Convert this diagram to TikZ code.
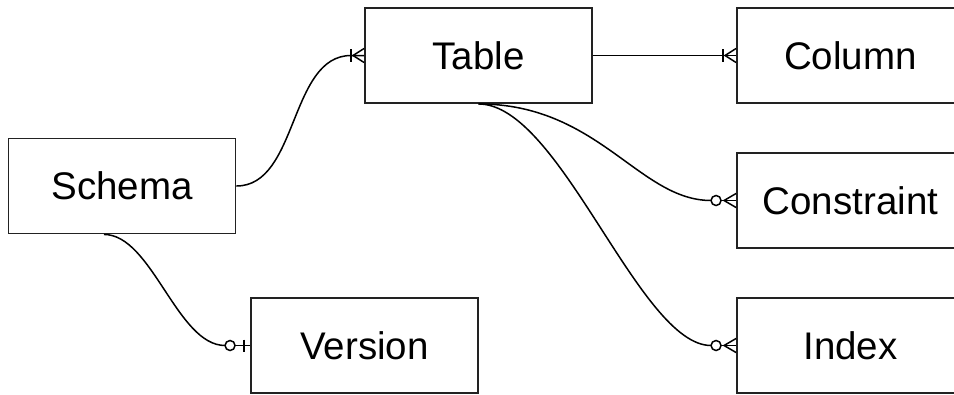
\documentclass[tikz,border=0pt]{standalone}
\usepackage{fontspec}
\setmainfont{Liberation Sans}
\usetikzlibrary{calc}
\definecolor{boxline}{HTML}{222222}
\tikzset{
  entity/.style={draw=boxline, line width=1.9pt, fill=white, minimum width=227pt, minimum height=95pt, inner sep=0pt, font=\fontsize{38.5}{40}\selectfont},
  rel/.style={draw=black, line width=1.5pt},
}
\begin{document}
\begin{tikzpicture}[x=1pt,y=-1pt]
\useasboundingbox (0,0) rectangle (954,394);
\node[entity] (Table) at (478.5,55.5) {Table};
\node[entity] (Column) at (850.5,55.5) {Column};
\node[entity] (Schema) at (122,186) {Schema};
\node[entity] (Constraint) at (850.5,200.5) {Constraint};
\node[entity] (Index) at (850.5,345.5) {Index};
\node[entity] (Version) at (364.5,345.5) {Version};

% Schema -> Table (one or many)
\coordinate (sT) at ($(Table.west)+(-13,0)$);
\draw[rel] (Schema.east) .. controls ($(Schema.east)+(62,0)$) and ($(sT)+(-62,0)$) .. (sT) -- (Table.west);
\draw[rel] ($(Table.west)+(-13,-6.5)$) -- ($(Table.west)+(-13,6.5)$);
\draw[rel] ($(Table.west)+(0,-7)$) -- ($(Table.west)+(-11,0)$) -- ($(Table.west)+(0,7)$);

% Table -> Column (one or many)
\draw[rel] (Table.east) -- (Column.west);
\draw[rel] ($(Column.west)+(-13,-6.5)$) -- ($(Column.west)+(-13,6.5)$);
\draw[rel] ($(Column.west)+(0,-7)$) -- ($(Column.west)+(-11,0)$) -- ($(Column.west)+(0,7)$);

% Table -> Constraint (zero or many)
\coordinate (cC) at ($(Constraint.west)+(-25,0)$);
\draw[rel] (Table.south) .. controls ($(Table.south)+(120,0)$) and ($(cC)+(-72,0)$) .. (cC);
\draw[rel] ($(Constraint.west)+(-20,0)$) circle (5);
\draw[rel] ($(Constraint.west)+(-15,0)$) -- (Constraint.west);
\draw[rel] ($(Constraint.west)+(0,-7)$) -- ($(Constraint.west)+(-12,0)$) -- ($(Constraint.west)+(0,7)$);

% Table -> Index (zero or many)
\coordinate (cI) at ($(Index.west)+(-25,0)$);
\draw[rel] (Table.south) .. controls ($(Table.south)+(82,0)$) and ($(cI)+(-72,0)$) .. (cI);
\draw[rel] ($(Index.west)+(-20,0)$) circle (5);
\draw[rel] ($(Index.west)+(-15,0)$) -- (Index.west);
\draw[rel] ($(Index.west)+(0,-7)$) -- ($(Index.west)+(-12,0)$) -- ($(Index.west)+(0,7)$);

% Schema -> Version (zero or one)
\coordinate (sS) at ($(Schema.south)+(-18,0)$);
\coordinate (vV) at ($(Version.west)+(-25,0)$);
\draw[rel] (sS) .. controls ($(sS)+(48,0)$) and ($(vV)+(-48,0)$) .. (vV);
\draw[rel] ($(Version.west)+(-20,0)$) circle (5);
\draw[rel] ($(Version.west)+(-15,0)$) -- (Version.west);
\draw[rel] ($(Version.west)+(-6,-6)$) -- ($(Version.west)+(-6,6)$);
\end{tikzpicture}
\end{document}
